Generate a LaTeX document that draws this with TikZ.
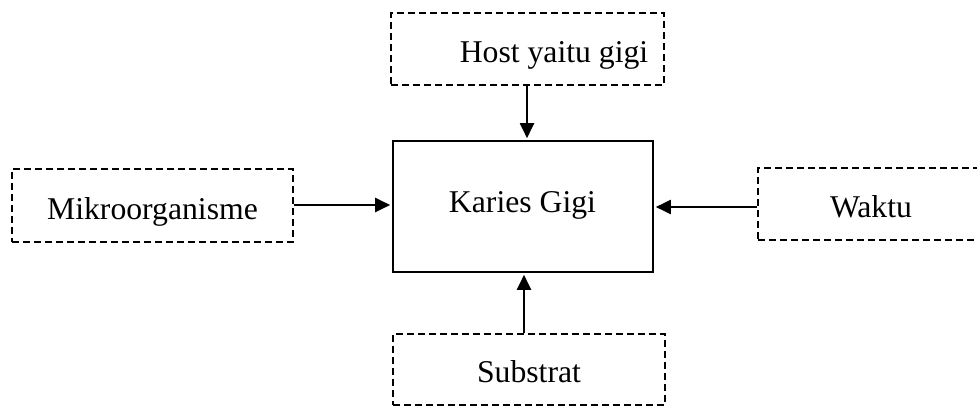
\documentclass[tikz,border=0pt]{standalone}
\usepackage{fontspec}
\setmainfont{Liberation Serif}
\usetikzlibrary{arrows.meta}
\begin{document}
\begin{tikzpicture}[x=1pt,y=1pt,
  dbox/.style={draw, dashed, dash pattern=on 7pt off 4pt, line width=1.1pt, inner sep=0pt, rectangle},
  mbox/.style={draw, line width=1.6pt, inner sep=0pt, rectangle},
  lbl/.style={font=\fontsize{31.7}{36}\selectfont, inner sep=0pt, anchor=base},
  arr/.style={line width=2pt, -{Triangle[length=15pt,width=14pt]}, shorten >=2pt}]
\useasboundingbox (0,0) rectangle (977,407);
\begin{scope}
\clip (0,0) rectangle (977,407);
% boxes (y = 407 - image y)
\node[dbox, minimum width=273pt, minimum height=72pt] (host) at (527.5,358) {};
\node[mbox, minimum width=260pt, minimum height=131pt] (karies) at (523,200.5) {};
\node[dbox, minimum width=281pt, minimum height=73pt] (mikro) at (152.5,201.5) {};
\node[dbox, minimum width=240pt, minimum height=72pt] (waktu) at (878,203) {};
\node[dbox, minimum width=272pt, minimum height=71pt] (substrat) at (529,37.5) {};
% texts
\node[lbl] (thost) at (554,344) {Host yaitu gigi};
\node[lbl] (tkaries) at (522.5,194) {Karies Gigi};
\node[lbl] (tmikro) at (152.5,187) {Mikroorganisme};
\node[lbl] (twaktu) at (871,189) {Waktu};
\node[lbl] (tsub) at (529,24) {Substrat};
\end{scope}
% connectors
\coordinate (hs) at ([xshift=-0.5pt]host.south);
\draw[arr] (hs) -- (hs |- karies.north);
\coordinate (me) at ([yshift=0.5pt]mikro.east);
\draw[arr] (me) -- (me -| karies.west);
\coordinate (ww) at ([yshift=-3pt]waktu.west);
\draw[arr] (ww) -- (ww -| karies.east);
\coordinate (sn) at ([xshift=-5pt]substrat.north);
\draw[arr] (sn) -- (sn |- karies.south);
\end{tikzpicture}
\end{document}
